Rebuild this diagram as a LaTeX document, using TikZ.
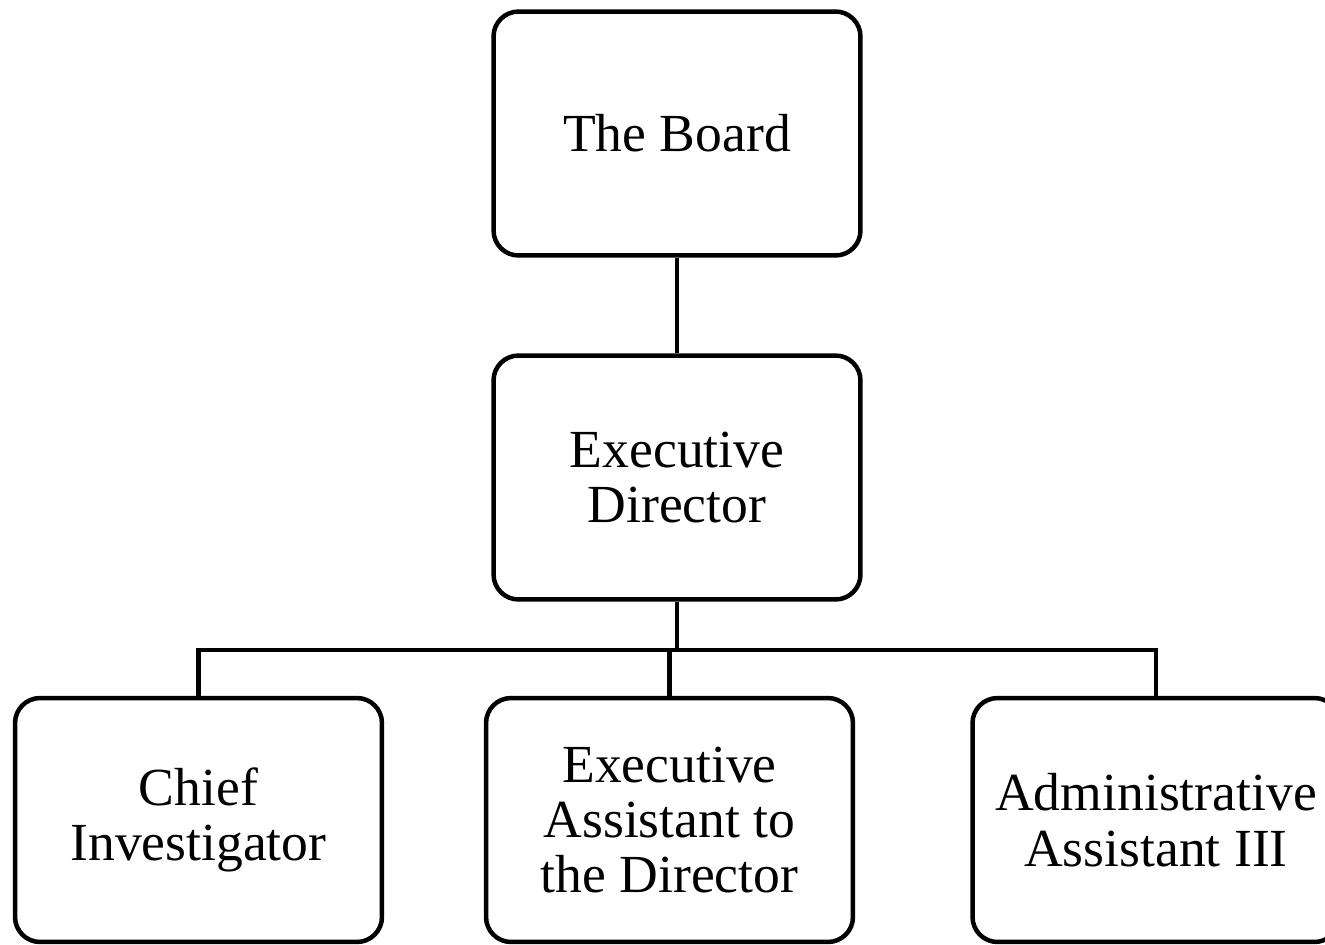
\documentclass[tikz,border=0pt]{standalone}
\usepackage{fontspec}
\setmainfont{Liberation Serif}
\begin{document}
\begin{tikzpicture}[x=0.02cm,y=-0.02cm,
  box/.style={draw=black, line width=0.09cm, rounded corners=0.5cm, fill=white,
    minimum width=7.34cm, minimum height=4.88cm, align=center,
    font=\fontsize{30.5}{31.5}\selectfont, inner sep=0pt},
  link/.style={draw=black, line width=0.09cm}]
\useasboundingbox (0,0) rectangle (1325,944);
\clip (0,0) rectangle (1325,944);
\fill[white] (0,0) rectangle (1325,944);
\node[box] (board) at (677,133.5) {The Board};
\node[box] (ed) at (677,477.5) {Executive\\Director};
\node[box] (ci) at (198.5,820) {Chief\\Investigator};
\node[box] (ea) at (669.5,820) {Executive\\Assistant to\\the Director};
\node[box] (aa) at (1156,820) {Administrative\\Assistant III};
\coordinate (bus) at (677,650);
\draw[link] (board) -- (ed);
\draw[link] (ed.south) -- (bus);
\draw[link] (ci.north) |- (bus);
\draw[link] (aa.north) |- (bus);
\draw[link] (ea.north) -- (ea.north |- bus);
\end{tikzpicture}
\end{document}
